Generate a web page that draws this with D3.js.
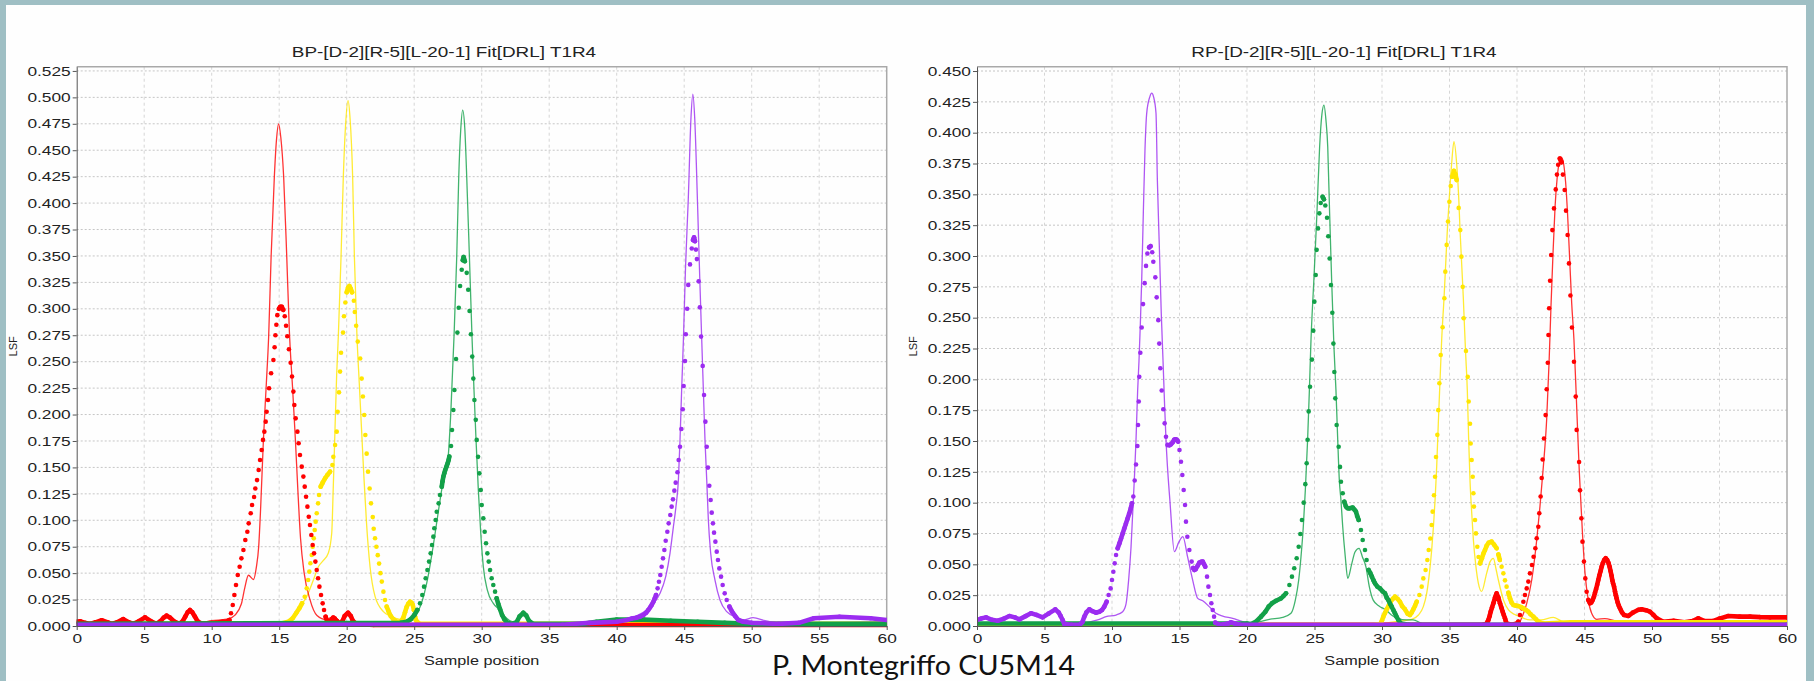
<!DOCTYPE html>
<html>
<head>
<meta charset="utf-8">
<script src="https://cdn.jsdelivr.net/npm/d3@7"></script>
<style>
  html, body { margin: 0; padding: 0; background: #9fbfc4; }
  svg { display: block; }
  text { font-family: "Liberation Sans", Arial, sans-serif; }
</style>
</head>
<body>
<svg id="chart" width="1814" height="681"></svg>
<script>
// ---- tick values ----
var sampleTicks = [0, 5, 10, 15, 20, 25, 30, 35, 40, 45, 50, 55, 60];
var bpTicks = [0, 0.025, 0.05, 0.075, 0.1, 0.125, 0.15, 0.175, 0.2, 0.225, 0.25, 0.275, 0.3,
               0.325, 0.35, 0.375, 0.4, 0.425, 0.45, 0.475, 0.5, 0.525];
var rpTicks = [0, 0.025, 0.05, 0.075, 0.1, 0.125, 0.15, 0.175, 0.2, 0.225, 0.25, 0.275, 0.3,
               0.325, 0.35, 0.375, 0.4, 0.425, 0.45];

// ---- BP chart: [sample position, LSF] ----
var bpRedLine = [[0,0.002],[9,0.003],[10,0.005],[11.3,0.007],[11.7,0.010],[12.2,0.021],[12.45,0.036],[12.72,0.048],[13.1,0.044],[13.3,0.055],[13.48,0.075],[13.63,0.113],[13.83,0.176],[14.05,0.23],[14.22,0.274],[14.4,0.349],[14.64,0.425],[14.8,0.46],[14.96,0.475],[15.12,0.462],[15.33,0.425],[15.56,0.349],[15.75,0.28],[16.0,0.223],[16.2,0.176],[16.38,0.129],[16.58,0.083],[16.85,0.05],[17.28,0.025],[17.8,0.010],[18.5,0.006],[19.0,0.009],[19.6,0.004],[22,0.002],[60,0.002]];
var bpRedDots = [[0,0.004],[0.25,0.0045],[0.6,0.003],[1.0,0.002],[1.4,0.0035],[1.85,0.0055],[2.3,0.0035],[2.6,0.002],[3.0,0.0035],[3.45,0.0065],[3.85,0.0035],[4.2,0.002],[4.6,0.0045],[5.06,0.0082],[5.5,0.0045],[5.9,0.002],[6.2,0.0045],[6.45,0.008],[6.66,0.0098],[6.9,0.008],[7.2,0.0045],[7.6,0.002],[7.85,0.0045],[8.05,0.009],[8.22,0.013],[8.39,0.0151],[8.56,0.013],[8.75,0.009],[8.95,0.0045],[9.3,0.002],[9.8,0.0025],[10.3,0.003],[10.8,0.004],[11.1,0.004],[11.31,0.0057],[11.43,0.012],[11.56,0.0199],[11.68,0.0293],[11.80,0.0388],[11.93,0.0482],[12.07,0.0561],[12.20,0.064],[12.35,0.0719],[12.49,0.0813],[12.64,0.0892],[12.74,0.0971],[12.89,0.1066],[12.99,0.1145],[13.14,0.122],[13.23,0.130],[13.36,0.138],[13.48,0.1476],[13.58,0.157],[13.7,0.1665],[13.8,0.176],[13.9,0.1838],[14.0,0.1933],[14.07,0.2027],[14.17,0.2138],[14.25,0.2248],[14.40,0.239],[14.57,0.2516],[14.66,0.2636],[14.72,0.275],[14.79,0.285],[14.86,0.294],[14.98,0.300],[15.08,0.302],[15.19,0.302],[15.3,0.299],[15.41,0.293],[15.51,0.284],[15.6,0.274],[15.72,0.2617],[15.85,0.249],[15.95,0.236],[16.05,0.2217],[16.12,0.209],[16.22,0.1964],[16.35,0.1838],[16.44,0.1728],[16.54,0.1617],[16.67,0.1507],[16.79,0.1413],[16.89,0.1318],[16.99,0.1223],[17.09,0.1129],[17.19,0.1034],[17.28,0.0955],[17.38,0.0861],[17.48,0.0766],[17.58,0.0687],[17.68,0.0609],[17.78,0.053],[17.88,0.0451],[17.98,0.0372],[18.10,0.0293],[18.22,0.0214],[18.32,0.0151],[18.44,0.0088],[18.56,0.0041],[18.75,0.004],[18.88,0.006],[19.0,0.008],[19.12,0.007],[19.25,0.005],[19.5,0.002],[19.7,0.005],[19.85,0.0095],[20.1,0.0126],[20.3,0.0095],[20.45,0.005],[20.7,0.002],[22,0.001],[60,0.001]];
var bpYellowLine = [[0,0.0025],[15,0.0025],[15.8,0.005],[16.05,0.007],[16.54,0.018],[17.04,0.028],[17.53,0.0435],[17.9,0.056],[18.27,0.062],[18.64,0.069],[18.89,0.0877],[19.0,0.129],[19.11,0.176],[19.26,0.239],[19.38,0.274],[19.58,0.349],[19.75,0.425],[19.9,0.47],[20.1,0.497],[20.25,0.48],[20.44,0.425],[20.57,0.349],[20.76,0.274],[20.93,0.23],[21.1,0.186],[21.27,0.142],[21.47,0.097],[21.73,0.056],[22.1,0.028],[22.72,0.0136],[23.2,0.0095],[23.7,0.007],[24.2,0.0057],[24.8,0.006],[25.5,0.003],[60,0.002]];
var bpYellowDots = [[0,0.002],[15,0.002],[15.68,0.004],[16.0,0.0073],[16.25,0.012],[16.49,0.0167],[16.69,0.0214],[16.89,0.0277],[17.04,0.0356],[17.14,0.0435],[17.23,0.0514],[17.31,0.0593],[17.41,0.0672],[17.48,0.075],[17.56,0.0829],[17.63,0.0908],[17.70,0.0987],[17.78,0.1066],[17.88,0.116],[17.95,0.1239],[18.07,0.1318],[18.22,0.1356],[18.40,0.1397],[18.57,0.1428],[18.77,0.146],[18.94,0.1523],[19.01,0.160],[19.14,0.1712],[19.26,0.1838],[19.33,0.2027],[19.43,0.221],[19.51,0.2406],[19.58,0.2585],[19.73,0.2775],[19.8,0.293],[19.9,0.306],[20.0,0.3156],[20.1,0.320],[20.2,0.3216],[20.3,0.319],[20.4,0.3156],[20.53,0.3077],[20.6,0.297],[20.7,0.284],[20.82,0.269],[21.0,0.253],[21.11,0.234],[21.2,0.217],[21.3,0.1996],[21.38,0.1807],[21.48,0.163],[21.58,0.146],[21.7,0.130],[21.8,0.116],[21.93,0.103],[22.0,0.092],[22.1,0.083],[22.2,0.075],[22.3,0.067],[22.4,0.059],[22.5,0.050],[22.6,0.042],[22.72,0.0325],[22.84,0.0246],[22.96,0.0183],[23.11,0.0136],[23.26,0.0095],[23.46,0.0063],[23.7,0.004],[24.0,0.004],[24.2,0.008],[24.32,0.013],[24.44,0.018],[24.56,0.021],[24.69,0.023],[24.8,0.022],[24.89,0.020],[24.98,0.015],[25.06,0.009],[25.15,0.005],[25.4,0.002],[60,0.002]];
var bpGreenLine = [[0,0.0025],[24,0.003],[24.6,0.004],[25.0,0.008],[25.5,0.020],[26.0,0.045],[26.4,0.075],[26.75,0.105],[27.05,0.13],[27.3,0.148],[27.5,0.158],[27.73,0.207],[27.95,0.274],[28.15,0.349],[28.3,0.425],[28.45,0.47],[28.59,0.488],[28.75,0.47],[28.89,0.425],[29.09,0.349],[29.28,0.274],[29.43,0.223],[29.58,0.176],[29.75,0.129],[29.93,0.0877],[30.12,0.056],[30.42,0.034],[30.86,0.0214],[31.36,0.015],[31.73,0.0088],[32.1,0.005],[33,0.002],[37,0.002],[40,0.004],[44,0.004],[48,0.003],[50,0.002],[60,0.002]];
var bpGreenDots = [[0,0.002],[24,0.003],[24.44,0.004],[24.74,0.0063],[25.01,0.0104],[25.23,0.0151],[25.43,0.0214],[25.6,0.0293],[25.73,0.0372],[25.85,0.0451],[25.98,0.053],[26.1,0.0609],[26.22,0.0687],[26.32,0.0766],[26.42,0.0845],[26.49,0.0924],[26.59,0.1003],[26.67,0.1081],[26.81,0.116],[26.91,0.1239],[27.04,0.1318],[27.1,0.137],[27.16,0.1413],[27.23,0.1445],[27.3,0.1476],[27.4,0.151],[27.48,0.1539],[27.55,0.157],[27.6,0.1602],[27.73,0.1703],[27.8,0.1854],[27.9,0.2043],[27.98,0.2232],[28.1,0.2526],[28.2,0.2775],[28.3,0.301],[28.4,0.3216],[28.52,0.337],[28.6,0.346],[28.66,0.349],[28.75,0.345],[28.89,0.334],[29.0,0.318],[29.1,0.298],[29.2,0.276],[29.3,0.2548],[29.38,0.234],[29.46,0.2138],[29.56,0.195],[29.63,0.176],[29.73,0.160],[29.83,0.1444],[29.93,0.1286],[30.0,0.1145],[30.12,0.1018],[30.22,0.0892],[30.32,0.0782],[30.42,0.0687],[30.52,0.0609],[30.62,0.053],[30.74,0.0451],[30.86,0.0388],[30.99,0.0325],[31.11,0.0262],[31.23,0.0208],[31.36,0.0158],[31.51,0.0104],[31.68,0.0063],[31.9,0.003],[32.3,0.002],[32.6,0.004],[32.8,0.009],[33.08,0.0125],[33.3,0.010],[33.5,0.005],[33.8,0.002],[37.5,0.002],[38.5,0.004],[40,0.006],[42,0.006],[44,0.005],[46,0.004],[48,0.003],[50,0.002],[60,0.002]];
var bpPurpleLine = [[0,0.0015],[35,0.0015],[37.78,0.0025],[40.24,0.0057],[41.48,0.0095],[42.22,0.0151],[42.72,0.0214],[43.21,0.031],[43.63,0.0467],[43.95,0.069],[44.2,0.094],[44.39,0.113],[44.57,0.138],[44.69,0.176],[44.81,0.223],[44.94,0.27],[45.1,0.34],[45.3,0.403],[45.5,0.48],[45.64,0.503],[45.78,0.48],[45.98,0.403],[46.15,0.33],[46.3,0.27],[46.42,0.223],[46.54,0.176],[46.67,0.138],[46.79,0.1],[46.96,0.069],[47.28,0.0435],[47.65,0.0246],[48.15,0.0136],[48.89,0.0082],[49.38,0.0057],[50.1,0.0079],[51,0.005],[52,0.003],[54,0.003],[60,0.004]];
var bpPurpleDots = [[0,0.0012],[36,0.0012],[38,0.003],[40,0.004],[40.74,0.0057],[41.1,0.007],[41.48,0.0079],[41.75,0.009],[41.98,0.0104],[42.18,0.0125],[42.34,0.0151],[42.47,0.0175],[42.59,0.0199],[42.7,0.0225],[42.79,0.0252],[42.91,0.0293],[43.03,0.0356],[43.13,0.0419],[43.23,0.0482],[43.33,0.0561],[43.43,0.064],[43.53,0.0719],[43.63,0.0807],[43.75,0.0892],[43.85,0.0971],[43.97,0.105],[44.07,0.1129],[44.17,0.1198],[44.27,0.128],[44.37,0.1356],[44.5,0.1454],[44.59,0.157],[44.69,0.1696],[44.79,0.1863],[44.89,0.205],[44.96,0.227],[45.06,0.2507],[45.12,0.276],[45.22,0.30],[45.3,0.3226],[45.43,0.342],[45.56,0.357],[45.65,0.365],[45.73,0.3676],[45.8,0.364],[45.87,0.356],[45.94,0.347],[46.07,0.326],[46.16,0.3014],[46.25,0.2737],[46.37,0.246],[46.47,0.2185],[46.57,0.1933],[46.67,0.1696],[46.76,0.1498],[46.86,0.1327],[46.96,0.1192],[47.04,0.1072],[47.13,0.0971],[47.21,0.0883],[47.31,0.0798],[47.41,0.0703],[47.5,0.0624],[47.6,0.0545],[47.73,0.0467],[47.85,0.0388],[48.0,0.0309],[48.15,0.0246],[48.35,0.0183],[48.54,0.0136],[48.77,0.0095],[49.01,0.0057],[49.38,0.004],[50,0.003],[52,0.002],[53.5,0.003],[54.6,0.0073],[56.5,0.0088],[58.8,0.0073],[60,0.0057]];

// ---- RP chart: [sample position, LSF] ----
var rpPurpleLine = [[0,0.001],[7,0.001],[8.07,0.0027],[9.06,0.0054],[9.56,0.0076],[10.3,0.0089],[10.79,0.0116],[11.04,0.018],[11.23,0.037],[11.41,0.064],[11.53,0.091],[11.65,0.118],[11.78,0.151],[11.9,0.191],[12.0,0.215],[12.1,0.245],[12.2,0.2805],[12.32,0.3346],[12.44,0.385],[12.57,0.4157],[12.8,0.429],[12.94,0.432],[13.08,0.429],[13.26,0.4157],[13.36,0.3616],[13.5,0.31],[13.65,0.2535],[13.78,0.215],[13.9,0.178],[14.0,0.151],[14.3,0.1],[14.62,0.0603],[14.95,0.068],[15.25,0.0724],[15.6,0.056],[15.98,0.037],[16.35,0.0224],[16.72,0.0205],[17.2,0.0157],[17.7,0.0103],[18.2,0.0081],[18.94,0.0062],[19.68,0.0035],[20.4,0.002],[22,0.001],[60,0.001]];
var rpPurpleDots = [[0,0.005],[0.3,0.006],[0.67,0.007],[1.1,0.005],[1.53,0.0043],[2.0,0.006],[2.4,0.0081],[2.8,0.007],[3.14,0.0054],[3.6,0.008],[4.0,0.0103],[4.4,0.009],[4.86,0.007],[5.3,0.010],[5.8,0.0135],[6.05,0.011],[6.2,0.008],[6.33,0.005],[6.47,0.0016],[7.0,0.001],[7.6,0.001],[7.8,0.003],[7.95,0.0076],[8.1,0.011],[8.32,0.0135],[8.55,0.012],[8.81,0.0108],[9.06,0.0116],[9.26,0.013],[9.43,0.0157],[9.6,0.0197],[9.75,0.0251],[9.9,0.0305],[10.0,0.0373],[10.1,0.044],[10.2,0.0508],[10.3,0.0576],[10.42,0.063],[10.55,0.067],[10.67,0.071],[10.79,0.075],[10.91,0.079],[11.03,0.083],[11.15,0.087],[11.27,0.091],[11.38,0.095],[11.48,0.0995],[11.58,0.105],[11.68,0.118],[11.78,0.131],[11.88,0.146],[11.93,0.163],[11.98,0.182],[12.02,0.202],[12.1,0.2216],[12.2,0.242],[12.3,0.261],[12.42,0.278],[12.52,0.292],[12.62,0.302],[12.75,0.307],[12.86,0.308],[12.98,0.303],[13.06,0.2954],[13.21,0.2827],[13.31,0.2665],[13.43,0.248],[13.5,0.229],[13.58,0.209],[13.68,0.191],[13.8,0.1757],[13.9,0.1643],[14.0,0.1535],[14.12,0.1468],[14.25,0.1465],[14.37,0.1473],[14.5,0.149],[14.6,0.151],[14.7,0.1514],[14.8,0.151],[14.9,0.1495],[15.0,0.1427],[15.11,0.1332],[15.21,0.1224],[15.31,0.1103],[15.41,0.0981],[15.48,0.0846],[15.58,0.0724],[15.73,0.0616],[15.9,0.0522],[16.0,0.047],[16.1,0.0454],[16.2,0.046],[16.35,0.049],[16.47,0.0514],[16.6,0.052],[16.72,0.0522],[16.82,0.05],[16.91,0.0481],[17.04,0.04],[17.14,0.0319],[17.26,0.0251],[17.36,0.0184],[17.46,0.013],[17.56,0.0076],[17.65,0.0027],[18.0,0.001],[18.6,0.002],[18.8,0.003],[19.1,0.002],[19.5,0.001],[60,0.001]];
var rpGreenLine = [[0,0.001],[19,0.001],[20.9,0.0035],[21.65,0.0054],[22.64,0.007],[23.26,0.0103],[23.58,0.021],[23.83,0.0373],[24.0,0.0562],[24.17,0.0805],[24.32,0.110],[24.49,0.151],[24.62,0.191],[24.74,0.2319],[24.95,0.28],[25.18,0.3346],[25.38,0.3886],[25.55,0.415],[25.7,0.4224],[25.85,0.41],[25.98,0.3886],[26.12,0.3346],[26.27,0.2805],[26.44,0.2265],[26.59,0.191],[26.72,0.151],[26.84,0.118],[26.96,0.102],[27.09,0.0805],[27.28,0.0562],[27.46,0.0386],[27.75,0.05],[28.0,0.06],[28.3,0.063],[28.55,0.056],[28.81,0.048],[29.06,0.032],[29.35,0.021],[29.8,0.016],[30.3,0.013],[30.7,0.009],[31.2,0.006],[31.8,0.005],[32.3,0.005],[33,0.002],[34,0.001],[60,0.001]];
var rpGreenDots = [[0,0.002],[20,0.002],[20.3,0.0016],[20.67,0.0035],[21.04,0.0076],[21.36,0.0116],[21.6,0.0157],[21.85,0.0184],[22.15,0.0205],[22.52,0.0224],[22.7,0.0243],[22.89,0.0265],[23.14,0.0332],[23.33,0.04],[23.5,0.0468],[23.68,0.0549],[23.83,0.0643],[23.95,0.0746],[24.07,0.086],[24.2,0.100],[24.32,0.115],[24.42,0.132],[24.49,0.151],[24.57,0.174],[24.67,0.194],[24.81,0.216],[24.91,0.2395],[24.99,0.263],[25.09,0.2846],[25.16,0.305],[25.26,0.3224],[25.36,0.3346],[25.46,0.343],[25.6,0.348],[25.7,0.346],[25.8,0.341],[25.93,0.331],[26.02,0.316],[26.12,0.298],[26.22,0.2765],[26.32,0.254],[26.4,0.229],[26.47,0.206],[26.54,0.1846],[26.64,0.163],[26.79,0.1454],[26.89,0.129],[26.96,0.117],[27.09,0.1076],[27.21,0.1008],[27.33,0.0968],[27.45,0.0955],[27.58,0.0954],[27.7,0.0957],[27.83,0.096],[27.95,0.0945],[28.07,0.0927],[28.17,0.089],[28.27,0.086],[28.44,0.0778],[28.57,0.0697],[28.74,0.0616],[28.86,0.0535],[29.01,0.0454],[29.13,0.043],[29.25,0.040],[29.37,0.037],[29.48,0.0346],[29.65,0.032],[29.85,0.0305],[30.05,0.028],[30.22,0.0265],[30.35,0.023],[30.47,0.021],[30.6,0.018],[30.72,0.0157],[30.84,0.013],[30.96,0.0103],[31.08,0.0075],[31.21,0.0049],[31.4,0.002],[32,0.001],[60,0.001]];
var rpYellowLine = [[0,0.001],[29,0.001],[30,0.002],[31.58,0.0043],[32.2,0.0054],[32.7,0.0089],[33.06,0.0157],[33.31,0.0265],[33.51,0.0427],[33.68,0.0616],[33.81,0.0805],[33.93,0.102],[34.05,0.129],[34.17,0.164],[34.3,0.1995],[34.42,0.2319],[34.6,0.267],[34.72,0.294],[34.84,0.321],[34.99,0.348],[35.16,0.375],[35.33,0.3927],[35.53,0.375],[35.68,0.348],[35.78,0.321],[35.9,0.294],[36.02,0.267],[36.12,0.24],[36.2,0.22],[36.32,0.191],[36.42,0.151],[36.52,0.118],[36.65,0.091],[36.77,0.0697],[36.96,0.048],[37.14,0.0346],[37.38,0.028],[37.75,0.0427],[38.0,0.052],[38.25,0.0549],[38.45,0.046],[38.62,0.0373],[39.0,0.021],[39.37,0.013],[39.8,0.0095],[40.22,0.0076],[40.96,0.0049],[41.8,0.005],[42.69,0.007],[43.3,0.004],[43.9,0.0027],[46,0.002],[60,0.002]];
var rpYellowDots = [[0,0.001],[29.5,0.001],[29.9,0.002],[30.0,0.0045],[30.1,0.0076],[30.22,0.0105],[30.35,0.0135],[30.5,0.0165],[30.64,0.0197],[30.8,0.022],[30.96,0.0238],[31.15,0.022],[31.33,0.0197],[31.5,0.016],[31.7,0.0135],[31.9,0.010],[32.07,0.0089],[32.2,0.011],[32.32,0.0135],[32.45,0.0165],[32.57,0.0197],[32.77,0.0251],[32.94,0.0319],[33.06,0.0386],[33.23,0.0454],[33.36,0.0535],[33.46,0.0616],[33.58,0.071],[33.68,0.0819],[33.75,0.0927],[33.85,0.106],[33.93,0.121],[34.0,0.137],[34.1,0.155],[34.17,0.175],[34.25,0.1968],[34.35,0.2197],[34.49,0.2422],[34.62,0.2657],[34.69,0.2873],[34.79,0.309],[34.89,0.328],[34.99,0.344],[35.09,0.3568],[35.21,0.3643],[35.33,0.369],[35.43,0.366],[35.53,0.3616],[35.68,0.339],[35.8,0.321],[35.88,0.2995],[35.98,0.275],[36.05,0.2495],[36.22,0.223],[36.35,0.202],[36.42,0.182],[36.52,0.164],[36.57,0.148],[36.64,0.1346],[36.72,0.121],[36.77,0.1076],[36.81,0.0968],[36.89,0.086],[36.96,0.0751],[37.06,0.0643],[37.15,0.056],[37.26,0.0508],[37.4,0.055],[37.52,0.059],[37.63,0.0616],[37.75,0.065],[37.9,0.0675],[38.12,0.0684],[38.3,0.066],[38.49,0.063],[38.62,0.058],[38.73,0.0535],[38.86,0.048],[38.99,0.0427],[39.11,0.037],[39.23,0.0319],[39.36,0.027],[39.48,0.0224],[39.6,0.019],[39.73,0.017],[39.9,0.0165],[40.1,0.0162],[40.3,0.0153],[40.47,0.0143],[40.66,0.013],[40.84,0.0116],[41.0,0.0096],[41.21,0.0076],[41.4,0.0055],[41.58,0.0035],[41.95,0.002],[44,0.003],[60,0.003]];
var rpRedLine = [[0,0.001],[37,0.001],[39,0.002],[40.1,0.002],[40.4,0.008],[40.72,0.0184],[41.09,0.0373],[41.46,0.0697],[41.7,0.0968],[41.95,0.129],[42.2,0.168],[42.38,0.215],[42.52,0.26],[42.66,0.30],[42.82,0.34],[42.98,0.364],[43.15,0.377],[43.3,0.38],[43.45,0.375],[43.6,0.36],[43.75,0.333],[43.9,0.298],[44.05,0.262],[44.22,0.2319],[44.42,0.178],[44.62,0.124],[44.85,0.075],[45.04,0.0427],[45.28,0.021],[45.53,0.0103],[45.9,0.0054],[46.5,0.006],[47.5,0.004],[49,0.004],[50,0.003],[60,0.002]];
var rpRedDots = [[0,0.001],[37.5,0.001],[37.7,0.0016],[37.8,0.003],[37.88,0.0049],[37.97,0.008],[38.05,0.0116],[38.15,0.015],[38.25,0.0184],[38.37,0.023],[38.49,0.0265],[38.62,0.023],[38.74,0.0184],[38.84,0.015],[38.94,0.0116],[39.02,0.009],[39.11,0.0062],[39.17,0.004],[39.23,0.002],[39.6,0.001],[40.0,0.002],[40.1,0.0035],[40.22,0.0089],[40.35,0.0143],[40.47,0.0197],[40.59,0.0251],[40.72,0.0305],[40.84,0.036],[40.96,0.0427],[41.11,0.0495],[41.23,0.0562],[41.36,0.063],[41.46,0.0711],[41.58,0.0805],[41.65,0.0914],[41.75,0.105],[41.83,0.12],[41.9,0.135],[42.0,0.152],[42.12,0.171],[42.2,0.192],[42.28,0.2135],[42.33,0.236],[42.38,0.2576],[42.45,0.28],[42.53,0.3008],[42.62,0.321],[42.74,0.3386],[42.87,0.354],[42.96,0.366],[43.05,0.374],[43.17,0.379],[43.3,0.376],[43.4,0.366],[43.53,0.3535],[43.63,0.3368],[43.75,0.317],[43.85,0.294],[43.96,0.268],[44.07,0.242],[44.22,0.2143],[44.35,0.186],[44.42,0.159],[44.6,0.133],[44.67,0.110],[44.77,0.0873],[44.85,0.0684],[44.96,0.0522],[45.06,0.0386],[45.16,0.0278],[45.28,0.0211],[45.41,0.0184],[45.5,0.019],[45.6,0.021],[45.7,0.0238],[45.78,0.027],[45.86,0.030],[45.94,0.0335],[46.02,0.0373],[46.1,0.041],[46.19,0.0445],[46.27,0.0481],[46.36,0.051],[46.46,0.0535],[46.57,0.0549],[46.68,0.0535],[46.78,0.051],[46.86,0.048],[46.93,0.0445],[47.0,0.041],[47.06,0.037],[47.12,0.0345],[47.19,0.0319],[47.26,0.028],[47.32,0.025],[47.38,0.0224],[47.46,0.019],[47.54,0.0165],[47.63,0.0143],[47.78,0.011],[47.93,0.0089],[48.25,0.0081],[48.6,0.011],[49.0,0.0132],[49.23,0.0135],[49.55,0.0128],[49.85,0.0116],[50.1,0.009],[50.35,0.0062],[50.84,0.0035],[51.6,0.0043],[52.4,0.003],[53.0,0.004],[53.43,0.0062],[53.9,0.004],[54.5,0.004],[55.0,0.006],[55.65,0.0081],[56.5,0.0076],[57.26,0.0076],[58.0,0.0072],[58.74,0.007],[60,0.007]];

var COLORS = {red: "#ff0000", yellow: "#ffe600", green: "#12a048", purple: "#9b2cf0"};

var svg = d3.select("#chart");

// white slide panel
svg.append("rect")
    .attr("x", 6).attr("y", 5)
    .attr("width", 1800).attr("height", 676)
    .attr("fill", "#fefefe");

// stretch text horizontally, the source screenshot was widened
function stretch(sel, k) {
    sel.each(function() {
        var w = this.getComputedTextLength();
        d3.select(this).attr("textLength", w * k).attr("lengthAdjust", "spacingAndGlyphs");
    });
}

var PLOT_TOP = 66.7,
    PLOT_BOTTOM = 626,
    PLOT_WIDTH = 810,
    DOT_R = 2.3,
    JOIN_PX = 6;

function drawPanel(p, idx) {
    var x = d3.scaleLinear().domain([0, 60]).range([p.left, p.left + PLOT_WIDTH]),
        y = d3.scaleLinear().domain([0, p.yMax]).range([PLOT_BOTTOM, PLOT_TOP]),
        g = svg.append("g");

    // grid
    g.append("g").selectAll("line")
        .data(p.ticks.slice(1))
        .join("line")
        .attr("x1", x(0)).attr("x2", x(60))
        .attr("y1", function(d) { return y(d); })
        .attr("y2", function(d) { return y(d); })
        .attr("stroke", "#c6c6c6")
        .attr("stroke-dasharray", "2,2");
    g.append("g").selectAll("line")
        .data(sampleTicks.slice(1, -1))
        .join("line")
        .attr("x1", function(d) { return x(d); })
        .attr("x2", function(d) { return x(d); })
        .attr("y1", PLOT_TOP).attr("y2", PLOT_BOTTOM)
        .attr("stroke", "#d6d6d6")
        .attr("stroke-dasharray", "3,3");

    // frame on top and right
    g.append("path")
        .attr("d", "M" + x(0) + "," + PLOT_TOP + "H" + x(60) + "V" + PLOT_BOTTOM)
        .attr("fill", "none")
        .attr("stroke", "#a9a9a9")
        .attr("stroke-width", 1.5);

    // series
    var clipId = "clip" + idx;
    g.append("clipPath").attr("id", clipId)
        .append("rect")
        .attr("x", x(0)).attr("y", PLOT_TOP)
        .attr("width", PLOT_WIDTH).attr("height", PLOT_BOTTOM - PLOT_TOP + 3);
    var plot = g.append("g").attr("clip-path", "url(#" + clipId + ")");

    var smooth = d3.line()
        .x(function(d) { return x(d[0]); })
        .y(function(d) { return y(d[1]); })
        .curve(d3.curveMonotoneX);
    var straight = d3.line()
        .x(function(d) { return x(d[0]); })
        .y(function(d) { return y(d[1]); });

    p.series.forEach(function(s) {
        plot.append("path")
            .attr("d", smooth(s.line))
            .attr("fill", "none")
            .attr("stroke", COLORS[s.color])
            .attr("stroke-opacity", 0.8)
            .attr("stroke-width", 1.3);
    });

    p.series.forEach(function(s) {
        // dense samples merge into a thick band, steep ones stay separate dots
        var runs = [], cur = [s.dots[0]];
        for (var i = 1; i < s.dots.length; i++) {
            var a = s.dots[i - 1], b = s.dots[i];
            if (Math.abs(y(a[1]) - y(b[1])) <= JOIN_PX) {
                cur.push(b);
            } else {
                runs.push(cur);
                cur = [b];
            }
        }
        runs.push(cur);
        var sg = plot.append("g");
        sg.selectAll("path")
            .data(runs.filter(function(r) { return r.length > 1; }))
            .join("path")
            .attr("d", straight)
            .attr("fill", "none")
            .attr("stroke", COLORS[s.color])
            .attr("stroke-width", DOT_R * 2)
            .attr("stroke-linecap", "round")
            .attr("stroke-linejoin", "round");
        sg.selectAll("circle")
            .data(s.dots)
            .join("circle")
            .attr("cx", function(d) { return x(d[0]); })
            .attr("cy", function(d) { return y(d[1]); })
            .attr("r", DOT_R)
            .attr("fill", COLORS[s.color]);
    });

    // axes
    var yAxis = d3.axisLeft(y)
        .tickValues(p.ticks)
        .tickFormat(d3.format(".3f"))
        .tickSize(4).tickSizeOuter(0).tickPadding(2);
    var xAxis = d3.axisBottom(x)
        .tickValues(sampleTicks)
        .tickFormat(d3.format("d"))
        .tickSize(4).tickSizeOuter(0).tickPadding(4);

    var ya = g.append("g")
        .attr("transform", "translate(" + x(0) + ",0)")
        .call(yAxis);
    var xa = g.append("g")
        .attr("transform", "translate(0," + PLOT_BOTTOM + ")")
        .call(xAxis);
    [ya, xa].forEach(function(a) {
        a.select(".domain").attr("stroke", "#555");
        a.selectAll(".tick line").attr("stroke", "#555");
        a.selectAll("text")
            .attr("fill", "#222")
            .style("font-size", "13px")
            .style("font-family", "'Liberation Sans', Arial, sans-serif");
        stretch(a.selectAll("text"), 1.33);
    });

    // titles
    var t = g.append("text")
        .attr("x", p.titleX).attr("y", 57)
        .attr("text-anchor", "middle")
        .attr("fill", "#222")
        .style("font-size", "15px")
        .text(p.title);
    stretch(t, 1.26);

    var xt = g.append("text")
        .attr("x", x(30)).attr("y", 665)
        .attr("text-anchor", "middle")
        .attr("fill", "#222")
        .style("font-size", "12px")
        .text("Sample position");
    stretch(xt, 1.35);

    g.append("text")
        .attr("transform", "translate(" + (p.left - 60) + "," + ((PLOT_TOP + PLOT_BOTTOM) / 2) + ") rotate(-90)")
        .attr("text-anchor", "middle")
        .attr("fill", "#222")
        .style("font-size", "11px")
        .text("LSF");
}

var panels = [
    {
        title: "BP-[D-2][R-5][L-20-1] Fit[DRL] T1R4",
        left: 76.7, titleX: 444, yMax: 0.529, ticks: bpTicks,
        series: [
            {color: "yellow", line: bpYellowLine, dots: bpYellowDots},
            {color: "red", line: bpRedLine, dots: bpRedDots},
            {color: "green", line: bpGreenLine, dots: bpGreenDots},
            {color: "purple", line: bpPurpleLine, dots: bpPurpleDots}
        ]
    },
    {
        title: "RP-[D-2][R-5][L-20-1] Fit[DRL] T1R4",
        left: 977, titleX: 1344, yMax: 0.4535, ticks: rpTicks,
        series: [
            {color: "red", line: rpRedLine, dots: rpRedDots},
            {color: "yellow", line: rpYellowLine, dots: rpYellowDots},
            {color: "green", line: rpGreenLine, dots: rpGreenDots},
            {color: "purple", line: rpPurpleLine, dots: rpPurpleDots}
        ]
    }
];

panels.forEach(drawPanel);

// slide credit
svg.append("text")
    .attr("x", 772).attr("y", 675)
    .attr("fill", "#111")
    .style("font-family", "Lato, 'Open Sans', sans-serif")
    .style("font-size", "26px")
    .attr("textLength", 303)
    .attr("lengthAdjust", "spacingAndGlyphs")
    .text("P. Montegriffo CU5M14");
</script>
</body>
</html>
